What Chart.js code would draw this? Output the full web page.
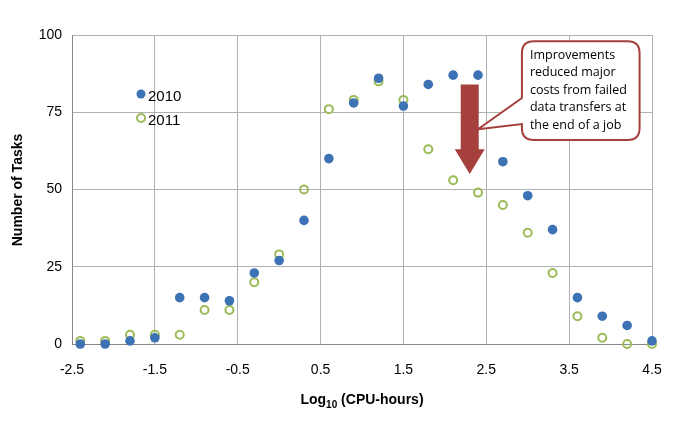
<!DOCTYPE html><html><head><style>body{margin:0;background:#fff}#w{width:684px;height:422px}</style>
<script src="https://cdn.jsdelivr.net/npm/chart.js@4"></script></head><body><div id="w"><canvas id="c"></canvas></div><script>
const xs=[-2.4,-2.1,-1.8,-1.5,-1.2,-0.9,-0.6,-0.3,0,0.3,0.6,0.9,1.2,1.5,1.8,2.1,2.4,2.7,3.0,3.3,3.6,3.9,4.2,4.5];
const y2010=[0,0,1,2,15,15,14,23,27,40,60,78,86,77,84,87,87,59,48,37,15,9,6,1];
const y2011=[1,1,3,3,3,11,11,20,29,50,76,79,85,79,63,53,49,45,36,23,9,2,0,0];
const xTicks=[-2.5,-1.5,-0.5,0.5,1.5,2.5,3.5,4.5];
const yTicks=[0,25,50,75,100];
const F='"Liberation Sans",Arial,sans-serif';
const blue='#3d72b4',green='#9bbb59',red='#a5403d';
const deco={id:'deco',afterDatasetsDraw(ch){const c=ch.ctx,x=ch.scales.x,y=ch.scales.y;c.save();
c.fillStyle=blue;c.beginPath();c.arc(141,94,4.5,0,7);c.fill();
c.strokeStyle=green;c.lineWidth=2;c.beginPath();c.arc(141,118,4,0,7);c.stroke();
c.fillStyle='#000';c.font='15px '+F;c.textBaseline='middle';c.fillText('2010',148,97);c.fillText('2011',148,121);
const ax=x.getPixelForValue(2.3),t=y.getPixelForValue(84),b=y.getPixelForValue(55),sh=y.getPixelForValue(63);
c.fillStyle=red;c.beginPath();c.moveTo(ax-9,t);c.lineTo(ax+9,t);c.lineTo(ax+9,sh);c.lineTo(ax+15,sh);c.lineTo(ax,b);c.lineTo(ax-15,sh);c.lineTo(ax-9,sh);c.closePath();c.fill();
const L=x.getPixelForValue(2.93),R=x.getPixelForValue(4.35),T=y.getPixelForValue(98),B=y.getPixelForValue(66),r=12;
const tx=x.getPixelForValue(2.4),ty=y.getPixelForValue(69.5);
c.fillStyle='#fff';c.strokeStyle=red;c.lineWidth=2;c.beginPath();
c.moveTo(L+r,T);c.lineTo(R-r,T);c.quadraticCurveTo(R,T,R,T+r);c.lineTo(R,B-r);c.quadraticCurveTo(R,B,R-r,B);c.lineTo(L+r,B);c.quadraticCurveTo(L,B,L,B-r);
c.lineTo(L,B-16);c.lineTo(tx,ty);c.lineTo(L,B-42);c.lineTo(L,T+r);c.quadraticCurveTo(L,T,L+r,T);c.closePath();c.fill();c.stroke();
c.fillStyle='#000';c.font='12.5px "Open Sans",Calibri,sans-serif';c.textBaseline='middle';
['Improvements','reduced major','costs from failed','data transfers at','the end of a job'].forEach((s,i)=>c.fillText(s,L+8,T+14+i*17.5));
c.textBaseline='alphabetic';
const cx=(x.left+x.right)/2;const p1='Log',p3=' (CPU-hours)';c.font='bold 14px '+F;const w1=c.measureText(p1).width,w3=c.measureText(p3).width;c.font='bold 10px '+F;const w2=c.measureText('10').width;
let sx=cx-(w1+w2+w3)/2;c.textAlign='left';c.font='bold 14px '+F;c.fillText(p1,sx,404);c.font='bold 10px '+F;c.fillText('10',sx+w1,408);c.font='bold 14px '+F;c.fillText(p3,sx+w1+w2,404);
c.translate(22,190);c.rotate(-Math.PI/2);c.textAlign='center';c.fillText('Number of Tasks',0,0);
c.restore();}};
new Chart(document.getElementById('c'),{type:'scatter',data:{datasets:[
{data:xs.map((v,i)=>({x:v,y:y2011[i]})),pointRadius:4,borderColor:green,borderWidth:2,backgroundColor:'rgba(0,0,0,0)',order:2,clip:false},
{data:xs.map((v,i)=>({x:v,y:y2010[i]})),pointRadius:4.8,backgroundColor:blue,borderColor:blue,borderWidth:0,order:1,clip:false}]},
options:{responsive:true,maintainAspectRatio:false,animation:false,layout:{padding:{top:35,right:32,left:0,bottom:0}},
plugins:{legend:{display:false},tooltip:{enabled:false}},
scales:{x:{type:'linear',min:-2.5,max:4.5,afterBuildTicks:s=>{s.ticks=xTicks.map(v=>({value:v}))},afterFit:s=>{s.height=78},
grid:{color:'#b0b0b0',drawTicks:false},border:{color:'#888'},ticks:{padding:18,color:'#000',font:{family:F,size:14},callback:v=>v}},
y:{min:0,max:100,afterBuildTicks:s=>{s.ticks=yTicks.map(v=>({value:v}))},afterFit:s=>{s.width=72},
grid:{color:'#b0b0b0',drawTicks:false},border:{color:'#888'},ticks:{padding:10,color:'#000',font:{family:F,size:14}}}}},plugins:[deco]});
</script></body></html>
